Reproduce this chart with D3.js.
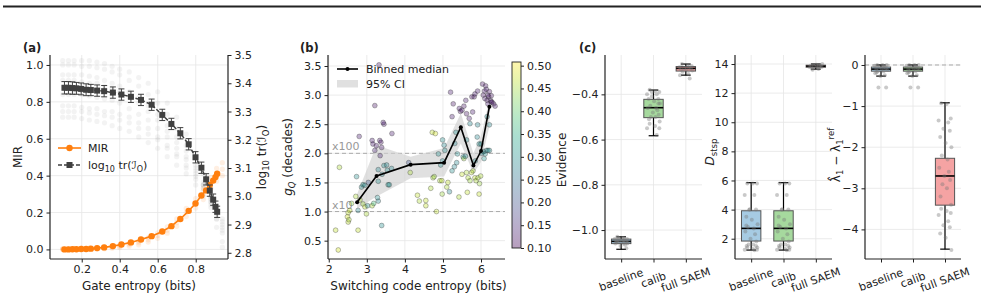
<!DOCTYPE html>
<html>
<head>
<meta charset="utf-8">
<script src="https://cdn.jsdelivr.net/npm/d3@7"></script>
<style>
body { margin: 0; background: #fff; }
text { font-family: "DejaVu Sans", sans-serif; fill: #222; }
</style>
</head>
<body>
<svg id="fig" width="984" height="300"></svg>
<script>
// ---------- data: panel (a), binned curves ----------
const gateX = [0.109,0.130,0.151,0.172,0.197,0.223,0.248,0.281,0.318,0.364,0.409,0.459,0.512,0.568,0.624,0.672,0.719,0.763,0.799,0.830,0.855,0.874,0.892,0.904,0.913];
const mirMed = [0.000,0.000,0.001,0.001,0.002,0.002,0.004,0.007,0.011,0.018,0.027,0.038,0.054,0.072,0.097,0.126,0.165,0.209,0.249,0.292,0.320,0.349,0.373,0.392,0.410];
const trMed = [3.384,3.384,3.383,3.382,3.380,3.377,3.376,3.374,3.372,3.367,3.360,3.352,3.341,3.324,3.288,3.256,3.223,3.184,3.138,3.101,3.060,3.020,2.988,2.963,2.945];
const trErr = [0.022,0.022,0.022,0.021,0.021,0.021,0.020,0.020,0.020,0.020,0.020,0.020,0.020,0.020,0.020,0.020,0.020,0.020,0.020,0.020,0.020,0.020,0.020,0.020,0.020];

// panel (a), individual runs in the background
const runX = [0.10,0.13,0.16,0.20,0.24,0.28,0.32,0.36,0.40,0.45,0.50,0.55,0.60,0.65,0.70,0.75,0.80,0.84,0.88,0.91,0.94];
const trRuns = [
  [3.48,3.48,3.48,3.48,3.48,3.475,3.47,3.46,3.45,3.44,3.42,3.40,3.37,3.33,3.28,3.22,3.15,3.08,3.00,2.92,2.82],
  [3.465,3.465,3.465,3.46,3.46,3.455,3.45,3.44,3.43,3.41,3.39,3.36,3.33,3.29,3.24,3.18,3.11,3.05,2.97,2.89,2.84],
  [3.43,3.43,3.43,3.43,3.425,3.42,3.41,3.40,3.39,3.37,3.35,3.32,3.29,3.25,3.21,3.16,3.10,3.04,2.98,2.93,2.87],
  [3.41,3.41,3.41,3.405,3.40,3.40,3.39,3.38,3.37,3.35,3.33,3.30,3.27,3.23,3.19,3.14,3.09,3.04,2.99,2.95,2.90],
  [3.36,3.36,3.36,3.36,3.355,3.35,3.345,3.34,3.33,3.31,3.29,3.27,3.24,3.21,3.17,3.13,3.08,3.04,3.00,2.96,2.92],
  [3.32,3.32,3.32,3.315,3.31,3.31,3.30,3.30,3.29,3.28,3.26,3.24,3.21,3.18,3.15,3.11,3.07,3.03,2.99,2.95,2.91],
  [3.30,3.30,3.30,3.30,3.295,3.29,3.285,3.28,3.27,3.26,3.24,3.22,3.20,3.17,3.14,3.10,3.06,3.02,2.98,2.94,2.89],
  [3.28,3.28,3.28,3.275,3.27,3.265,3.26,3.25,3.24,3.23,3.21,3.19,3.17,3.14,3.11,3.08,3.04,3.00,2.96,2.92,2.88]
];
const mirRuns = [
  [0.005,0.005,0.006,0.007,0.008,0.010,0.014,0.018,0.024,0.033,0.045,0.064,0.090,0.122,0.165,0.222,0.275,0.330,0.390,0.440,0.470],
  [0.000,0.000,0.000,0.000,0.000,0.001,0.003,0.006,0.010,0.017,0.025,0.040,0.060,0.088,0.125,0.178,0.225,0.270,0.330,0.370,0.400],
  [0.002,0.002,0.003,0.004,0.005,0.006,0.009,0.012,0.017,0.026,0.036,0.052,0.075,0.104,0.145,0.200,0.250,0.300,0.360,0.405,0.435]
];

// ---------- data: panel (b) ----------
const bX = [2.18,2.25,2.28,2.51,2.49,2.51,2.53,2.55,2.60,2.73,2.71,2.77,2.80,2.77,2.82,2.86,2.90,2.95,2.90,2.95,2.99,3.02,3.04,3.14,3.14,3.21,3.16,3.21,3.25,3.30,3.30,3.32,3.34,3.35,3.37,3.39,3.39,3.40,3.45,3.45,3.52,3.54,3.56,3.30,3.28,3.66,3.18,3.59,3.65,3.43,
  4.10,4.14,4.33,4.55,4.68,4.72,4.80,4.74,4.77,4.83,4.88,4.92,4.97,4.98,4.99,4.94,5.05,5.10,5.17,5.13,5.20,4.99,5.03,5.24,5.30,5.24,5.27,5.34,5.31,5.43,5.46,5.50,5.55,5.38,5.36,5.42,5.50,5.53,5.55,5.59,
  5.60,5.62,5.69,5.76,5.78,5.82,5.84,5.71,5.62,5.62,5.64,5.66,5.71,5.75,5.79,5.84,5.87,5.85,5.91,5.95,5.90,5.92,5.95,5.96,5.99,6.00,6.02,6.06,6.08,6.11,6.14,6.18,6.22,
  6.04,6.09,6.12,6.14,6.06,6.10,6.16,6.18,6.20,6.25,6.27,6.29,6.33,6.37,6.27,6.18,6.22,6.22,6.16,5.91,4.38,4.55];
const bY = [0.68,0.34,1.76,0.98,0.91,0.82,0.86,1.02,1.14,1.60,1.26,0.68,2.29,1.02,1.20,1.42,1.46,1.45,1.13,1.08,0.96,1.10,1.50,1.10,2.22,2.82,2.16,2.05,2.13,1.52,1.72,3.52,2.22,1.96,2.19,2.10,0.76,1.64,2.50,1.79,1.80,1.71,1.46,1.18,1.24,2.34,1.14,1.46,1.74,2.53,
  1.84,1.67,1.28,1.19,1.40,2.36,2.34,1.58,1.60,1.00,1.99,1.53,1.53,1.30,1.87,1.80,2.05,1.42,1.34,1.50,3.05,2.23,2.14,1.70,1.77,2.63,2.85,2.36,2.17,2.77,2.72,2.74,2.81,1.99,1.84,1.25,1.64,1.94,1.91,1.95,
  2.91,2.68,2.60,2.97,2.71,2.97,3.02,2.51,2.23,1.67,1.33,1.58,1.53,1.67,1.70,1.58,1.53,1.87,2.49,2.16,2.28,1.58,1.30,1.48,1.61,2.16,2.00,2.03,1.91,1.99,2.05,2.05,2.05,
  3.19,3.07,3.16,3.10,3.00,2.94,2.91,2.85,2.97,2.91,2.88,2.88,2.85,2.81,2.99,3.00,3.06,2.49,2.63,3.07,1.18,1.10];
const bEv = [0.47,0.48,0.46,0.47,0.48,0.47,0.46,0.47,0.45,0.30,0.46,0.47,0.13,0.29,0.46,0.30,0.31,0.29,0.45,0.47,0.46,0.30,0.21,0.46,0.13,0.12,0.13,0.14,0.13,0.30,0.29,0.12,0.13,0.14,0.12,0.13,0.30,0.29,0.13,0.30,0.29,0.30,0.31,0.29,0.30,0.13,0.38,0.30,0.29,0.13,
  0.20,0.46,0.47,0.47,0.46,0.47,0.48,0.46,0.45,0.47,0.30,0.46,0.47,0.45,0.29,0.30,0.30,0.46,0.29,0.47,0.13,0.30,0.29,0.30,0.29,0.13,0.12,0.30,0.29,0.13,0.12,0.13,0.12,0.30,0.29,0.46,0.47,0.30,0.45,0.29,
  0.13,0.12,0.13,0.12,0.13,0.12,0.13,0.29,0.30,0.46,0.47,0.46,0.45,0.47,0.46,0.47,0.46,0.30,0.29,0.30,0.29,0.46,0.47,0.45,0.46,0.30,0.29,0.30,0.31,0.30,0.29,0.30,0.30,
  0.12,0.13,0.12,0.13,0.12,0.13,0.12,0.13,0.12,0.13,0.12,0.13,0.12,0.13,0.12,0.13,0.12,0.29,0.30,0.13,0.46,0.47];

const medX = [2.745,3.255,4.15,5.03,5.47,5.80,6.00,6.22];
const medY = [1.16,1.61,1.806,1.84,2.45,1.79,2.04,2.80];
const ciLo = [1.05,1.26,1.57,1.60,2.17,1.66,1.85,2.46];
const ciHi = [1.30,2.14,1.94,2.09,2.69,2.00,2.30,2.92];

// ---------- data: panel (c) ----------
const cCats = ["baseline", "calib", "full SAEM"];
const evQ1 = [-1.060,-0.503,-0.297], evMed = [-1.050,-0.459,-0.285], evQ3 = [-1.040,-0.422,-0.277];
const evLo = [-1.085,-0.583,-0.315], evHi = [-1.030,-0.381,-0.266];
const evPts = [
  [-1.03,-1.035,-1.04,-1.04,-1.045,-1.045,-1.05,-1.05,-1.05,-1.055,-1.055,-1.06,-1.06,-1.065,-1.07,-1.08,-1.035,-1.045,-1.05,-1.06],
  [-0.38,-0.385,-0.39,-0.40,-0.40,-0.41,-0.42,-0.42,-0.43,-0.44,-0.45,-0.46,-0.46,-0.47,-0.48,-0.49,-0.50,-0.50,-0.51,-0.52,-0.53,-0.54,-0.55,-0.55,-0.58,-0.39,-0.44],
  [-0.266,-0.27,-0.275,-0.28,-0.28,-0.285,-0.285,-0.29,-0.29,-0.295,-0.30,-0.31,-0.315,-0.33]
];
const dQ1 = [1.84,1.84,13.78], dMed = [2.71,2.71,13.85], dQ3 = [3.92,3.92,13.92];
const dLo = [1.22,1.22,13.65], dHi = [5.85,5.85,14.0];
const dPts = [
  [5.8,5.8,5.8,5.0,5.0,4.0,4.0,3.5,3.3,3.0,2.8,2.7,2.5,2.3,2.0,1.8,1.6,1.6,1.5,1.4,1.4,1.3,1.25,1.25,1.2,4.0,1.5,2.9],
  [5.8,5.8,5.8,5.0,5.0,4.0,4.0,3.5,3.3,3.0,2.8,2.7,2.5,2.3,2.0,1.8,1.6,1.6,1.5,1.4,1.4,1.3,1.25,1.25,1.2,4.0,1.5,2.9],
  [13.7,13.75,13.8,13.8,13.85,13.85,13.9,13.9,13.95,14.0,13.6,13.65]
];
const lQ1 = [-0.15,-0.15,-3.41], lMed = [-0.10,-0.10,-2.70], lQ3 = [-0.05,-0.05,-2.27];
const lLo = [-0.27,-0.27,-4.48], lHi = [0,0,-0.92];
const lPts = [
  [0,0,0,-0.02,-0.05,-0.05,-0.08,-0.1,-0.1,-0.12,-0.15,-0.15,-0.2,-0.25,-0.27,-0.55,-0.55,-0.03,-0.18],
  [0,0,0,-0.02,-0.05,-0.05,-0.08,-0.1,-0.1,-0.12,-0.15,-0.15,-0.2,-0.25,-0.27,-0.55,-0.55,-0.03,-0.18],
  [-0.93,-0.95,-1.3,-1.35,-1.4,-1.55,-1.6,-1.75,-1.9,-2.0,-2.2,-2.3,-2.5,-2.6,-2.7,-2.8,-2.9,-3.0,-3.2,-3.4,-3.5,-3.55,-3.6,-3.65,-3.8,-3.9,-3.95,-4.1,-4.2,-4.5]
];
// fixed horizontal offsets for the strip points (category units)
const jit = [-0.12,0.05,0.18,-0.2,0.1,-0.05,0.15,-0.15,0.02,0.2,-0.1,0.08,-0.18,0.12,-0.02,0.16,-0.08,0.06,-0.14,0.19];

// ---------- styles ----------
const orange = "#ff7f0e", dark = "#404040", gridC = "#e6e6e6";
const boxFill = ["#a6cbe3", "#a6d99e", "#f5a3a3"];
const fsTick = 11, fsLab = 12;

const svg = d3.select("#fig");

// top rule
svg.append("line").attr("x1", 3).attr("x2", 981).attr("y1", 6.5).attr("y2", 6.5)
  .attr("stroke", "#222").attr("stroke-width", 2);

function styleAxis(g) {
  g.select(".domain").remove();
  g.selectAll(".tick line").attr("stroke", "#222");
  g.selectAll(".tick text").attr("font-size", fsTick).attr("fill", "#222")
    .attr("font-family", "DejaVu Sans, sans-serif");
}
function spine(x1, y1, x2, y2) {
  svg.append("line").attr("x1", x1).attr("y1", y1).attr("x2", x2).attr("y2", y2)
    .attr("stroke", "#222").attr("stroke-width", 1.2);
}
function gridX(scale, ticks, t, b) {
  svg.append("g").selectAll("line").data(ticks).join("line")
    .attr("x1", d => scale(d)).attr("x2", d => scale(d)).attr("y1", t).attr("y2", b)
    .attr("stroke", gridC).attr("stroke-width", 0.8);
}
function gridY(scale, ticks, l, r) {
  svg.append("g").selectAll("line").data(ticks).join("line")
    .attr("y1", d => scale(d)).attr("y2", d => scale(d)).attr("x1", l).attr("x2", r)
    .attr("stroke", gridC).attr("stroke-width", 0.8);
}
function vLabel(x, y, parts) {
  let t = svg.append("text").attr("transform", `translate(${x},${y}) rotate(-90)`)
    .attr("text-anchor", "middle").attr("font-size", fsLab);
  parts.forEach(p => {
    let s = t.append("tspan").text(p.t);
    if (p.dy) s.attr("dy", p.dy);
    if (p.fs) s.attr("font-size", p.fs);
    if (p.it) s.attr("font-style", "italic");
  });
  return t;
}
function panelTag(x, y, s) {
  svg.append("text").attr("x", x).attr("y", y).attr("font-size", 11.5)
    .attr("font-weight", "bold").text(s);
}

// ================= panel (a) =================
const A = {l: 50, r: 228, t: 55, b: 259};
const ax = d3.scaleLinear().domain([0.033, 0.97]).range([A.l, A.r]);
const ayL = d3.scaleLinear().domain([-0.052, 1.054]).range([A.b, A.t]);
const ayR = d3.scaleLinear().domain([2.778, 3.5]).range([A.b, A.t]);

gridX(ax, [0.2, 0.4, 0.6, 0.8], A.t, A.b);
gridY(ayL, [0, 0.2, 0.4, 0.6, 0.8, 1.0], A.l, A.r);

// background runs
trRuns.forEach(run => {
  svg.append("g").selectAll("circle").data(run).join("circle")
    .attr("cx", (d, i) => ax(runX[i])).attr("cy", d => ayR(d)).attr("r", 2.6)
    .attr("fill", "#999").attr("fill-opacity", 0.12);
});
mirRuns.forEach(run => {
  svg.append("g").selectAll("circle").data(run).join("circle")
    .attr("cx", (d, i) => ax(runX[i])).attr("cy", d => ayL(d)).attr("r", 2.6)
    .attr("fill", orange).attr("fill-opacity", 0.12);
});

// MIR binned curve
const mirLine = d3.line().x((d, i) => ax(gateX[i])).y(d => ayL(d));
svg.append("path").datum(mirMed).attr("d", mirLine)
  .attr("fill", "none").attr("stroke", orange).attr("stroke-width", 1.6);
svg.append("g").selectAll("circle").data(mirMed).join("circle")
  .attr("cx", (d, i) => ax(gateX[i])).attr("cy", d => ayL(d)).attr("r", 3.2)
  .attr("fill", orange);

// log10 tr curve with error bars
const trLine = d3.line().x((d, i) => ax(gateX[i])).y(d => ayR(d));
svg.append("path").datum(trMed).attr("d", trLine)
  .attr("fill", "none").attr("stroke", dark).attr("stroke-width", 1.5)
  .attr("stroke-dasharray", "4,2");
const eb = svg.append("g").attr("stroke", dark).attr("stroke-width", 1);
trMed.forEach((d, i) => {
  let x = ax(gateX[i]);
  eb.append("line").attr("x1", x).attr("x2", x)
    .attr("y1", ayR(d - trErr[i])).attr("y2", ayR(d + trErr[i]));
  eb.append("line").attr("x1", x - 3).attr("x2", x + 3)
    .attr("y1", ayR(d - trErr[i])).attr("y2", ayR(d - trErr[i]));
  eb.append("line").attr("x1", x - 3).attr("x2", x + 3)
    .attr("y1", ayR(d + trErr[i])).attr("y2", ayR(d + trErr[i]));
});
svg.append("g").selectAll("rect").data(trMed).join("rect")
  .attr("x", (d, i) => ax(gateX[i]) - 3).attr("y", d => ayR(d) - 3)
  .attr("width", 6).attr("height", 6).attr("fill", dark);

// axes (a)
spine(A.l, A.t, A.l, A.b); spine(A.r, A.t, A.r, A.b); spine(A.l, A.b, A.r, A.b);
svg.append("g").attr("transform", `translate(0,${A.b})`)
  .call(d3.axisBottom(ax).tickValues([0.2, 0.4, 0.6, 0.8]).tickFormat(d3.format(".1f")).tickSize(3.5))
  .call(styleAxis);
svg.append("g").attr("transform", `translate(${A.l},0)`)
  .call(d3.axisLeft(ayL).tickValues([0, 0.2, 0.4, 0.6, 0.8, 1.0]).tickFormat(d3.format(".1f")).tickSize(3.5))
  .call(styleAxis);
svg.append("g").attr("transform", `translate(${A.r},0)`)
  .call(d3.axisRight(ayR).tickValues([2.8, 2.9, 3.0, 3.1, 3.2, 3.3, 3.4, 3.5]).tickFormat(d3.format(".1f")).tickSize(3.5))
  .call(styleAxis);
svg.append("text").attr("x", (A.l + A.r) / 2).attr("y", 290).attr("text-anchor", "middle")
  .attr("font-size", fsLab).text("Gate entropy (bits)");
vLabel(22, 157, [{t: "MIR"}]);
vLabel(266, 157, [{t: "log"}, {t: "10", fs: 8.5, dy: 3}, {t: " tr(ℐ", dy: -3}, {t: "O", fs: 8.5, dy: 3}, {t: ")", dy: -3}]);
panelTag(23, 52, "(a)");

// legend (a)
svg.append("line").attr("x1", 58).attr("x2", 81).attr("y1", 148).attr("y2", 148)
  .attr("stroke", orange).attr("stroke-width", 1.6);
svg.append("circle").attr("cx", 69.5).attr("cy", 148).attr("r", 3.2).attr("fill", orange);
svg.append("text").attr("x", 88).attr("y", 152).attr("font-size", fsTick).text("MIR");
svg.append("line").attr("x1", 58).attr("x2", 81).attr("y1", 165).attr("y2", 165)
  .attr("stroke", dark).attr("stroke-width", 1.5).attr("stroke-dasharray", "4,2");
svg.append("rect").attr("x", 66.5).attr("y", 162).attr("width", 6).attr("height", 6).attr("fill", dark);
let lg = svg.append("text").attr("x", 88).attr("y", 169).attr("font-size", fsTick);
lg.append("tspan").text("log");
lg.append("tspan").text("10").attr("font-size", 8).attr("dy", 3);
lg.append("tspan").text(" tr(ℐ").attr("dy", -3);
lg.append("tspan").text("O").attr("font-size", 8).attr("dy", 3);
lg.append("tspan").text(")").attr("dy", -3);

// ================= panel (b) =================
const B = {l: 328, r: 505, t: 55, b: 259};
const bx = d3.scaleLinear().domain([1.98, 6.63]).range([B.l, B.r]);
const by = d3.scaleLinear().domain([0.185, 3.689]).range([B.b, B.t]);
const evScale = d3.scaleLinear().domain([0.1, 0.51]).range([0, 1]);
const evColor = v => d3.interpolateViridis(evScale(v));

gridX(bx, [2, 3, 4, 5, 6], B.t, B.b);
gridY(by, [0.5, 1.0, 1.5, 2.0, 2.5, 3.0, 3.5], B.l, B.r);

// reference lines
[1.0, 2.0].forEach(v => {
  svg.append("line").attr("x1", B.l).attr("x2", B.r).attr("y1", by(v)).attr("y2", by(v))
    .attr("stroke", "#aaa").attr("stroke-width", 1).attr("stroke-dasharray", "4,3");
});
svg.append("text").attr("x", 332).attr("y", by(2.0) - 3).attr("font-size", fsTick)
  .style("fill", "#999").text("x100");
svg.append("text").attr("x", 332).attr("y", by(1.0) - 3).attr("font-size", fsTick)
  .style("fill", "#999").text("x10");

// CI band
const band = d3.area().x((d, i) => bx(medX[i])).y0((d, i) => by(ciLo[i])).y1(d => by(d));
svg.append("path").datum(ciHi).attr("d", band).attr("fill", "#cfcfcf").attr("fill-opacity", 0.65);

// scatter
svg.append("g").selectAll("circle").data(bX).join("circle")
  .attr("cx", d => bx(d)).attr("cy", (d, i) => by(bY[i])).attr("r", 2.4)
  .attr("fill", (d, i) => evColor(bEv[i])).attr("fill-opacity", 0.35)
  .attr("stroke", "#222").attr("stroke-opacity", 0.5).attr("stroke-width", 0.6);

// binned median
const medLine = d3.line().x((d, i) => bx(medX[i])).y(d => by(d));
svg.append("path").datum(medY).attr("d", medLine)
  .attr("fill", "none").attr("stroke", "#000").attr("stroke-width", 1.6);
svg.append("g").selectAll("circle").data(medY).join("circle")
  .attr("cx", (d, i) => bx(medX[i])).attr("cy", d => by(d)).attr("r", 2).attr("fill", "#000");

spine(B.l, B.t, B.l, B.b); spine(B.l, B.b, B.r, B.b);
svg.append("g").attr("transform", `translate(0,${B.b})`)
  .call(d3.axisBottom(bx).tickValues([2, 3, 4, 5, 6]).tickFormat(d3.format("d")).tickSize(3.5))
  .call(styleAxis);
svg.append("g").attr("transform", `translate(${B.l},0)`)
  .call(d3.axisLeft(by).tickValues([0.5, 1.0, 1.5, 2.0, 2.5, 3.0, 3.5]).tickFormat(d3.format(".1f")).tickSize(3.5))
  .call(styleAxis);
svg.append("text").attr("x", (B.l + B.r) / 2 + 2).attr("y", 290).attr("text-anchor", "middle")
  .attr("font-size", fsLab).text("Switching code entropy (bits)");
vLabel(292, 157, [{t: "g", it: true}, {t: "Q", fs: 8.5, dy: 3, it: true}, {t: " (decades)", dy: -3}]);
panelTag(300, 52, "(b)");

// legend (b)
svg.append("line").attr("x1", 337).attr("x2", 358).attr("y1", 69).attr("y2", 69)
  .attr("stroke", "#000").attr("stroke-width", 1.6);
svg.append("circle").attr("cx", 347.5).attr("cy", 69).attr("r", 2).attr("fill", "#000");
svg.append("text").attr("x", 366).attr("y", 73).attr("font-size", fsTick).text("Binned median");
svg.append("rect").attr("x", 337).attr("y", 80).attr("width", 21).attr("height", 7.5)
  .attr("fill", "#cfcfcf").attr("fill-opacity", 0.65);
svg.append("text").attr("x", 366).attr("y", 88).attr("font-size", fsTick).text("95% CI");

// colorbar
const cb = {l: 512, w: 9, t: 62, b: 248};
const cbY = d3.scaleLinear().domain([0.1, 0.508]).range([cb.b, cb.t]);
const grad = svg.append("defs").append("linearGradient").attr("id", "vir")
  .attr("x1", 0).attr("x2", 0).attr("y1", 1).attr("y2", 0);
d3.range(0, 1.0001, 0.1).forEach(s => {
  grad.append("stop").attr("offset", s).attr("stop-color", d3.interpolateViridis(s));
});
svg.append("rect").attr("x", cb.l).attr("y", cb.t).attr("width", cb.w).attr("height", cb.b - cb.t)
  .attr("fill", "url(#vir)").attr("fill-opacity", 0.38);
svg.append("rect").attr("x", cb.l).attr("y", cb.t).attr("width", cb.w).attr("height", cb.b - cb.t)
  .attr("fill", "none").attr("stroke", "#222").attr("stroke-width", 0.9);
svg.append("g").attr("transform", `translate(${cb.l + cb.w},0)`)
  .call(d3.axisRight(cbY).tickValues([0.1, 0.15, 0.2, 0.25, 0.3, 0.35, 0.4, 0.45, 0.5]).tickFormat(d3.format(".2f")).tickSize(3))
  .call(styleAxis);
vLabel(566, 160, [{t: "Evidence"}]);

// ================= panel (c) =================
function boxPanel(l, r, dom, ticks, fmt, q1, med, q3, lo, hi, pts, zeroLine) {
  const x = d3.scaleLinear().domain([-0.5, 2.5]).range([l, r]);
  const y = d3.scaleLinear().domain(dom).range([259, 55]);
  gridX(x, [0, 1, 2], 55, 259);
  gridY(y, ticks, l, r);
  if (zeroLine) {
    svg.append("line").attr("x1", l).attr("x2", r).attr("y1", y(0)).attr("y2", y(0))
      .attr("stroke", "#aaa").attr("stroke-width", 1).attr("stroke-dasharray", "4,3");
  }
  const bw = 0.6, cw = 0.3;
  cCats.forEach((c, i) => {
    let g = svg.append("g");
    g.append("line").attr("x1", x(i)).attr("x2", x(i)).attr("y1", y(lo[i])).attr("y2", y(hi[i]))
      .attr("stroke", "#000").attr("stroke-width", 1.2);
    [lo[i], hi[i]].forEach(v => {
      g.append("line").attr("x1", x(i - cw / 2)).attr("x2", x(i + cw / 2)).attr("y1", y(v)).attr("y2", y(v))
        .attr("stroke", "#000").attr("stroke-width", 1.2);
    });
    g.append("rect").attr("x", x(i - bw / 2)).attr("width", x(bw) - x(0))
      .attr("y", y(q3[i])).attr("height", Math.max(y(q1[i]) - y(q3[i]), 0.5))
      .attr("fill", boxFill[i]).attr("stroke", "#555").attr("stroke-width", 1);
    g.append("line").attr("x1", x(i - bw / 2)).attr("x2", x(i + bw / 2)).attr("y1", y(med[i])).attr("y2", y(med[i]))
      .attr("stroke", "#000").attr("stroke-width", 1.6);
    svg.append("g").selectAll("circle").data(pts[i]).join("circle")
      .attr("cx", (d, k) => x(i + jit[k % jit.length])).attr("cy", d => y(d)).attr("r", 2)
      .attr("fill", "#777").attr("fill-opacity", 0.4);
  });
  spine(l, 55, l, 259); spine(l, 259, r, 259);
  svg.append("g").attr("transform", `translate(${l},0)`)
    .call(d3.axisLeft(y).tickValues(ticks).tickFormat(fmt).tickSize(3.5))
    .call(styleAxis);
  svg.append("g").attr("transform", "translate(0,259)")
    .call(d3.axisBottom(x).tickValues([0, 1, 2]).tickFormat("").tickSize(3.5))
    .call(styleAxis);
  cCats.forEach((c, i) => {
    svg.append("text").attr("transform", `translate(${x(i)},${280}) rotate(-20)`)
      .attr("text-anchor", "middle").attr("dominant-baseline", "central")
      .attr("font-size", fsTick).text(c);
  });
}

boxPanel(605, 702, [-1.128, -0.226], [-1.0, -0.8, -0.6, -0.4], d3.format(".1f"),
  evQ1, evMed, evQ3, evLo, evHi, evPts, false);
boxPanel(735, 832, [0.606, 14.62], [2, 4, 6, 8, 10, 12, 14], d3.format("d"),
  dQ1, dMed, dQ3, dLo, dHi, dPts, false);
boxPanel(865, 961, [-4.72, 0.243], [-4, -3, -2, -1, 0], d3.format("d"),
  lQ1, lMed, lQ3, lLo, lHi, lPts, true);
panelTag(579, 52, "(c)");

vLabel(714, 152, [{t: "D", it: true}, {t: "stsp", fs: 8.5, dy: 3}]);
vLabel(840, 155, [{t: "λ̂"}, {t: "1", fs: 8.5, dy: 3}, {t: " − λ", dy: -3}, {t: "1", fs: 8.5, dy: 3}, {t: "ref", fs: 8.5, dy: -9}]);
</script>
</body>
</html>
